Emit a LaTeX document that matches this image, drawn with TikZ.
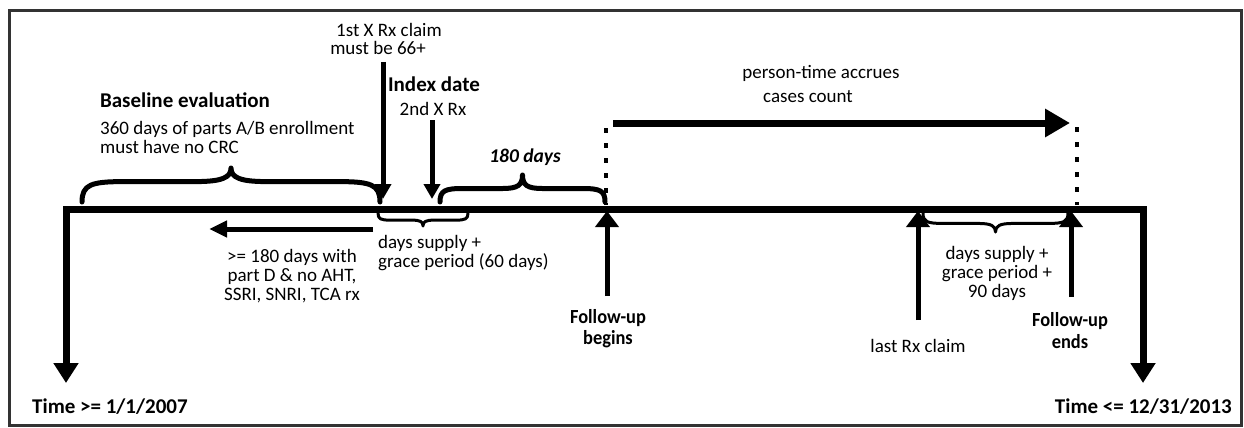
\documentclass[tikz,border=0pt]{standalone}
\usepackage{fontspec}
\setmainfont{Carlito}
\usepackage{graphicx}
\usetikzlibrary{arrows.meta}

% curly brace between x1 and x2 on level y0; h > 0 points up, h < 0 points down
% #1 style, #2 x1, #3 x2, #4 y0, #5 h, #6 arm level (fraction of h)
\newcommand{\tlbrace}[6]{%
  \pgfmathsetmacro{\bw}{#3-#2}%
  \pgfmathsetmacro{\bm}{(#2+#3)/2}%
  \pgfmathsetmacro{\ba}{#4-#6*#5}%
  \pgfmathsetmacro{\bt}{#4-#5}%
  \pgfmathsetmacro{\bc}{#4-0.85*#6*#5}%
  \pgfmathsetmacro{\bn}{#4-(#6+0.12)*#5}%
  \draw[#1] (#2,#4) .. controls (#2,\bc) and ({#2+0.03*\bw},\ba) .. ({#2+0.14*\bw},\ba)
     -- ({\bm-0.12*\bw},\ba) .. controls ({\bm-0.03*\bw},\ba) and (\bm,\bn) .. (\bm,\bt)
     .. controls (\bm,\bn) and ({\bm+0.03*\bw},\ba) .. ({\bm+0.12*\bw},\ba)
     -- ({#3-0.14*\bw},\ba) .. controls ({#3-0.03*\bw},\ba) and (#3,\bc) .. (#3,#4);
}
\newcommand{\cnd}[1]{\scalebox{0.92}[1]{#1}}

\begin{document}
\begin{tikzpicture}[x=1pt, y=-1pt,
  txt/.style={font=\fontsize{19}{19}\selectfont, inner sep=0pt, anchor=base},
  hd/.style={font=\fontsize{21}{21}\selectfont\bfseries, inner sep=0pt, anchor=base},
  hdi/.style={font=\fontsize{19.5}{19.5}\selectfont\bfseries\itshape, inner sep=0pt, anchor=base},
  fu/.style={font=\fontsize{20}{20}\selectfont\bfseries, inner sep=0pt, anchor=base},
  frame/.style={line width=2.5pt, black!80},
  axis/.style={line width=7pt, line join=miter,
    {Triangle[width=24pt,length=20pt]}-{Triangle[width=24pt,length=20pt]}},
  downarr/.style={line width=5pt, -{Triangle[width=16pt,length=15pt]}},
  uparr/.style={line width=5pt, -{Triangle[width=23pt,length=16pt]}},
  leftarr/.style={line width=5pt, -{Triangle[width=16pt,length=18pt]}},
  bigarr/.style={line width=7pt, -{Triangle[width=27pt,length=25pt]}},
  dots/.style={line width=4.5pt, dash pattern=on 5pt off 10pt},
  bracebig/.style={line width=5pt, line cap=round, line join=round},
  bracesmall/.style={line width=3pt, line cap=round, line join=round}]

\useasboundingbox (0,0) rectangle (1244,428);
\draw[frame] (9.5,10.5) rectangle (1241.5,425.5);

% time axis with its two drops
\coordinate (tlL) at (66,383);
\coordinate (tlLc) at (66,209);
\coordinate (tlRc) at (1143,209);
\coordinate (tlR) at (1143,383);
\draw[axis] (tlL) -- (tlLc) -- (tlRc) -- (tlR);

\node[hd, anchor=base west] (t0) at (32,413) {Time >= 1/1/2007};
\node[hd, anchor=base east] (t1) at (1232,413) {Time <= 12/31/2013};

% baseline window
\node[hd] (base) at (185,107) {Baseline evaluation};
\node[txt, anchor=base west] (bl1) at (100,134) {360 days of parts A/B enrollment};
\node[txt, anchor=base west] (bl2) at (100,153) {must have no CRC};
\tlbrace{bracebig}{82}{380}{202}{34}{0.6}

% first claim and index date
\node[txt] (c1a) at (389,37) {1st X Rx claim};
\node[txt] (c1b) at (378,55) {must be 66+};
\coordinate (a1s) at (383,62);
\coordinate (a1e) at (383,199);
\draw[downarr] (a1s) -- (a1e);

\node[hd] (idx) at (434,92) {Index date};
\node[txt] (idx2) at (433,115) {2nd X Rx};
\coordinate (a2s) at (432,120);
\coordinate (a2e) at (432,199);
\draw[downarr] (a2s) -- (a2e);

% 180-day window
\node[hdi] (d180) at (525,162) {180 days};
\tlbrace{bracebig}{440}{605}{202}{27}{0.5}

% washout below the axis
\coordinate (lbS) at (373,229);
\coordinate (lbE) at (209,229);
\draw[leftarr] (lbS) -- (lbE);
\node[txt] (w1) at (292,262) {>= 180 days with};
\node[txt] (w2) at (292,281) {part D \& no AHT,};
\node[txt] (w3) at (292,300) {SSRI, SNRI, TCA rx};

\tlbrace{bracesmall}{378}{468}{213}{-13}{0.55}
\node[txt, anchor=base west] (g1) at (378,248) {days supply +};
\node[txt, anchor=base west] (g2) at (378,267) {grace period (60 days)};

% follow-up period
\coordinate (d1a) at (606,128);
\coordinate (d1b) at (606,205);
\coordinate (d2a) at (1077,127);
\coordinate (d2b) at (1077,205);
\draw[dots] (d1a) -- (d1b);
\draw[dots] (d2a) -- (d2b);

\coordinate (ptS) at (613,123);
\coordinate (ptE) at (1070,123);
\draw[bigarr] (ptS) -- (ptE);
\node[txt] (pt1) at (821,78) {person-time accrues};
\node[txt] (pt2) at (808,102) {cases count};

\coordinate (fbS) at (607,296);
\coordinate (fbE) at (607,211);
\draw[uparr] (fbS) -- (fbE);
\node[fu] (fb1) at (608,323) {\cnd{Follow-up}};
\node[fu] (fb2) at (608,344) {\cnd{begins}};

\coordinate (lrS) at (918,320);
\coordinate (lrE) at (918,211);
\draw[uparr] (lrS) -- (lrE);
\node[txt] (last) at (918,352) {last Rx claim};

\coordinate (feS) at (1071,297);
\coordinate (feE) at (1071,211);
\draw[uparr] (feS) -- (feE);
\node[fu] (fe1) at (1070,326) {\cnd{Follow-up}};
\node[fu] (fe2) at (1070,348) {\cnd{ends}};

\tlbrace{bracesmall}{923}{1068}{213}{-19}{0.55}
\node[txt] (r1) at (997,259) {days supply +};
\node[txt] (r2) at (997,278) {grace period +};
\node[txt] (r3) at (997,297) {90 days};
\end{tikzpicture}
\end{document}
